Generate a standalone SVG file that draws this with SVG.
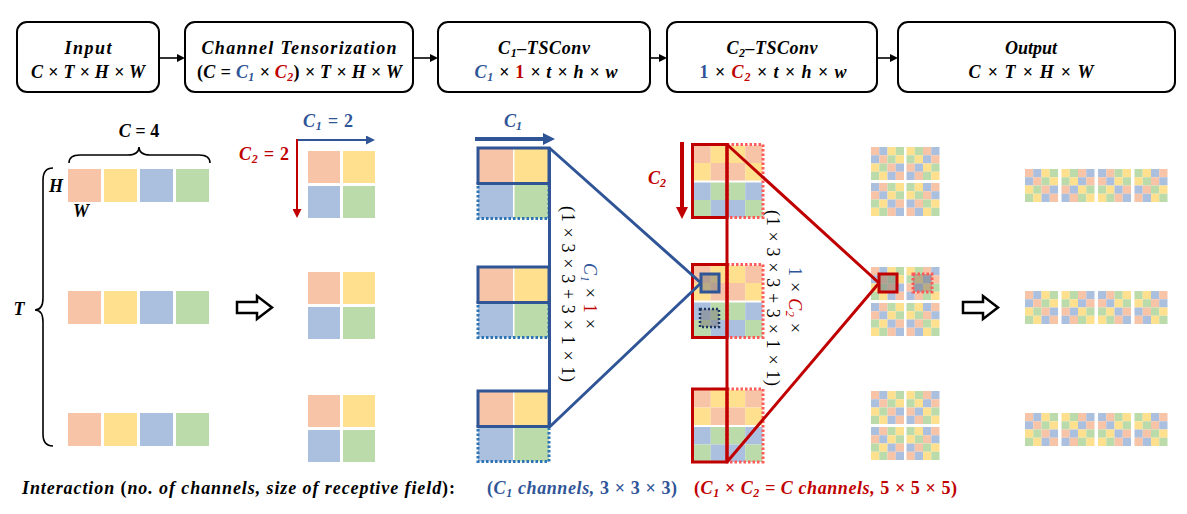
<svg xmlns="http://www.w3.org/2000/svg" xmlns:xlink="http://www.w3.org/1999/xlink" width="1187" height="514" viewBox="0 0 1187 514">
<style>
.o{fill:#F8C4A7}.y{fill:#FEE08F}.b{fill:#ABBFDE}.g{fill:#BCDBAA}
.box{fill:#fff;stroke:#000;stroke-width:2}
.t{font-family:"Liberation Serif",serif;font-weight:bold;font-style:italic;font-size:18px;text-anchor:middle;fill:#000}
.r{font-family:"Liberation Serif",serif;font-size:18px;text-anchor:middle;fill:#000}
.n{font-style:normal}
.sub{font-size:12px}
.bl{fill:#2F5597}.rd{fill:#C00000}
.sb{fill:none;stroke:#2F5597;stroke-width:3}
.db{fill:none;stroke:#2E75B6;stroke-width:3;stroke-dasharray:2.5 2}
.sr{fill:none;stroke:#C00000;stroke-width:3}
.dr{fill:none;stroke:#FF5B5B;stroke-width:3;stroke-dasharray:2.5 2}
.ln{fill:none;stroke:#000;stroke-width:1.6}
.hollow{fill:#fff;stroke:#000;stroke-width:2.5}
.gray{fill:#7F7F7F;fill-opacity:0.55}
</style>
<defs>
<marker id="ak" viewBox="0 0 10 10" refX="0" refY="5" markerWidth="8" markerHeight="8" markerUnits="userSpaceOnUse" orient="auto"><path d="M0,0L10,5L0,10z" fill="#000"/></marker>
<marker id="abs" viewBox="0 0 10 10" refX="0" refY="5" markerWidth="9" markerHeight="9" markerUnits="userSpaceOnUse" orient="auto"><path d="M0,0L10,5L0,10z" fill="#2F5597"/></marker>
<marker id="ars" viewBox="0 0 10 10" refX="0" refY="5" markerWidth="9" markerHeight="9" markerUnits="userSpaceOnUse" orient="auto"><path d="M0,0L10,5L0,10z" fill="#C00000"/></marker>
<marker id="abl" viewBox="0 0 10 10" refX="0" refY="5" markerWidth="12" markerHeight="12" markerUnits="userSpaceOnUse" orient="auto"><path d="M0,0L10,5L0,10z" fill="#2F5597"/></marker>
<marker id="arl" viewBox="0 0 10 10" refX="0" refY="5" markerWidth="12" markerHeight="12" markerUnits="userSpaceOnUse" orient="auto"><path d="M0,0L10,5L0,10z" fill="#C00000"/></marker>
<g id="row4"><rect class="o" x="0" y="0" width="33" height="33"/><rect class="y" x="36" y="0" width="33" height="33"/><rect class="b" x="72" y="0" width="33" height="33"/><rect class="g" x="108" y="0" width="33" height="33"/></g>
<g id="q2"><rect class="o" x="0" y="0" width="32" height="32"/><rect class="y" x="35" y="0" width="32" height="32"/><rect class="b" x="0" y="35" width="32" height="32"/><rect class="g" x="35" y="35" width="32" height="32"/></g>
<g id="g3"><rect class="o" x="0" y="0" width="35" height="35"/><rect class="y" x="36.5" y="0" width="34.5" height="35"/><rect class="b" x="0" y="36.5" width="35" height="34"/><rect class="g" x="36.5" y="36.5" width="34.5" height="34"/><rect class="db" x="0" y="35.5" width="71" height="35"/><rect class="sb" x="0" y="0" width="71" height="35.5"/></g>
<g id="g4">
<rect class="o" x="0" y="0" width="17.25" height="17.5"/><rect class="y" x="17.25" y="0" width="17.25" height="17.5"/><rect class="y" x="34.5" y="0" width="17.25" height="17.5"/><rect class="o" x="51.75" y="0" width="17.25" height="17.5"/>
<rect class="y" x="0" y="17.5" width="17.25" height="17.5"/><rect class="o" x="17.25" y="17.5" width="17.25" height="17.5"/><rect class="o" x="34.5" y="17.5" width="17.25" height="17.5"/><rect class="y" x="51.75" y="17.5" width="17.25" height="17.5"/>
<rect class="b" x="0" y="37" width="17.25" height="17.5"/><rect class="g" x="17.25" y="37" width="17.25" height="17.5"/><rect class="g" x="34.5" y="37" width="17.25" height="17.5"/><rect class="b" x="51.75" y="37" width="17.25" height="17.5"/>
<rect class="g" x="0" y="54.5" width="17.25" height="17.5"/><rect class="b" x="17.25" y="54.5" width="17.25" height="17.5"/><rect class="b" x="34.5" y="54.5" width="17.25" height="17.5"/><rect class="g" x="51.75" y="54.5" width="17.25" height="17.5"/>
</g>
<g id="P1">
<rect class="o" x="0" y="0" width="8.25" height="8.25"/><rect class="b" x="8.25" y="0" width="8.25" height="8.25"/><rect class="y" x="16.5" y="0" width="8.25" height="8.25"/><rect class="g" x="24.75" y="0" width="8.25" height="8.25"/>
<rect class="b" x="0" y="8.25" width="8.25" height="8.25"/><rect class="o" x="8.25" y="8.25" width="8.25" height="8.25"/><rect class="g" x="16.5" y="8.25" width="8.25" height="8.25"/><rect class="y" x="24.75" y="8.25" width="8.25" height="8.25"/>
<rect class="y" x="0" y="16.5" width="8.25" height="8.25"/><rect class="g" x="8.25" y="16.5" width="8.25" height="8.25"/><rect class="o" x="16.5" y="16.5" width="8.25" height="8.25"/><rect class="b" x="24.75" y="16.5" width="8.25" height="8.25"/>
<rect class="g" x="0" y="24.75" width="8.25" height="8.25"/><rect class="y" x="8.25" y="24.75" width="8.25" height="8.25"/><rect class="b" x="16.5" y="24.75" width="8.25" height="8.25"/><rect class="o" x="24.75" y="24.75" width="8.25" height="8.25"/>
</g>
<g id="P2">
<rect class="y" x="0" y="0" width="8.25" height="8.25"/><rect class="g" x="8.25" y="0" width="8.25" height="8.25"/><rect class="o" x="16.5" y="0" width="8.25" height="8.25"/><rect class="b" x="24.75" y="0" width="8.25" height="8.25"/>
<rect class="g" x="0" y="8.25" width="8.25" height="8.25"/><rect class="y" x="8.25" y="8.25" width="8.25" height="8.25"/><rect class="b" x="16.5" y="8.25" width="8.25" height="8.25"/><rect class="o" x="24.75" y="8.25" width="8.25" height="8.25"/>
<rect class="o" x="0" y="16.5" width="8.25" height="8.25"/><rect class="b" x="8.25" y="16.5" width="8.25" height="8.25"/><rect class="y" x="16.5" y="16.5" width="8.25" height="8.25"/><rect class="g" x="24.75" y="16.5" width="8.25" height="8.25"/>
<rect class="b" x="0" y="24.75" width="8.25" height="8.25"/><rect class="o" x="8.25" y="24.75" width="8.25" height="8.25"/><rect class="g" x="16.5" y="24.75" width="8.25" height="8.25"/><rect class="y" x="24.75" y="24.75" width="8.25" height="8.25"/>
</g>
<g id="P3">
<rect class="b" x="0" y="0" width="8.25" height="8.25"/><rect class="o" x="8.25" y="0" width="8.25" height="8.25"/><rect class="g" x="16.5" y="0" width="8.25" height="8.25"/><rect class="y" x="24.75" y="0" width="8.25" height="8.25"/>
<rect class="o" x="0" y="8.25" width="8.25" height="8.25"/><rect class="b" x="8.25" y="8.25" width="8.25" height="8.25"/><rect class="y" x="16.5" y="8.25" width="8.25" height="8.25"/><rect class="g" x="24.75" y="8.25" width="8.25" height="8.25"/>
<rect class="g" x="0" y="16.5" width="8.25" height="8.25"/><rect class="y" x="8.25" y="16.5" width="8.25" height="8.25"/><rect class="b" x="16.5" y="16.5" width="8.25" height="8.25"/><rect class="o" x="24.75" y="16.5" width="8.25" height="8.25"/>
<rect class="y" x="0" y="24.75" width="8.25" height="8.25"/><rect class="g" x="8.25" y="24.75" width="8.25" height="8.25"/><rect class="o" x="16.5" y="24.75" width="8.25" height="8.25"/><rect class="b" x="24.75" y="24.75" width="8.25" height="8.25"/>
</g>
<g id="P4">
<rect class="g" x="0" y="0" width="8.25" height="8.25"/><rect class="y" x="8.25" y="0" width="8.25" height="8.25"/><rect class="b" x="16.5" y="0" width="8.25" height="8.25"/><rect class="o" x="24.75" y="0" width="8.25" height="8.25"/>
<rect class="y" x="0" y="8.25" width="8.25" height="8.25"/><rect class="g" x="8.25" y="8.25" width="8.25" height="8.25"/><rect class="o" x="16.5" y="8.25" width="8.25" height="8.25"/><rect class="b" x="24.75" y="8.25" width="8.25" height="8.25"/>
<rect class="b" x="0" y="16.5" width="8.25" height="8.25"/><rect class="o" x="8.25" y="16.5" width="8.25" height="8.25"/><rect class="g" x="16.5" y="16.5" width="8.25" height="8.25"/><rect class="y" x="24.75" y="16.5" width="8.25" height="8.25"/>
<rect class="o" x="0" y="24.75" width="8.25" height="8.25"/><rect class="b" x="8.25" y="24.75" width="8.25" height="8.25"/><rect class="y" x="16.5" y="24.75" width="8.25" height="8.25"/><rect class="g" x="24.75" y="24.75" width="8.25" height="8.25"/>
</g>
<g id="g5"><use xlink:href="#P1"/><use xlink:href="#P2" x="35.5"/><use xlink:href="#P3" y="36"/><use xlink:href="#P4" x="35.5" y="36"/></g>
<g id="out"><use xlink:href="#P1"/><use xlink:href="#P2" x="36.5"/><use xlink:href="#P3" x="73"/><use xlink:href="#P4" x="109.5"/></g>
</defs>
<rect width="1187" height="514" fill="#fff"/>

<g id="node-input"><rect class="box" x="17" y="22" width="142" height="70" rx="10"/>
<text class="t" x="88" y="54" textLength="47">Input</text>
<text class="t" x="88" y="78" textLength="114">C × T × H × W</text></g>

<g id="node-tensorization"><rect class="box" x="185" y="22" width="228" height="70" rx="10"/>
<text class="t" x="299" y="54" textLength="195">Channel Tensorization</text>
<text class="t" x="299.5" y="78" textLength="205"><tspan class="n">(</tspan>C = <tspan class="bl">C<tspan class="sub" dy="3">1</tspan></tspan><tspan dy="-3"> × </tspan><tspan class="rd">C<tspan class="sub" dy="3">2</tspan></tspan><tspan dy="-3" class="n">)</tspan> × T × H × W</text></g>

<g id="node-c1tsconv"><rect class="box" x="438" y="22" width="212" height="70" rx="10"/>
<text class="t" x="544" y="54" textLength="92">C<tspan class="sub" dy="3">1</tspan><tspan dy="-3">–TSConv</tspan></text>
<text class="t" x="546" y="78" textLength="143"><tspan class="bl">C<tspan class="sub" dy="3">1</tspan></tspan><tspan dy="-3"> × </tspan><tspan class="rd n">1</tspan> × t × h × w</text></g>

<g id="node-c2tsconv"><rect class="box" x="667" y="22" width="210" height="70" rx="10"/>
<text class="t" x="772" y="54" textLength="91">C<tspan class="sub" dy="3">2</tspan><tspan dy="-3">–TSConv</tspan></text>
<text class="t" x="773" y="78" textLength="147"><tspan class="bl n">1</tspan> × <tspan class="rd">C<tspan class="sub" dy="3">2</tspan></tspan><tspan dy="-3"> ×  t × h × w</tspan></text></g>

<g id="node-output"><rect class="box" x="898" y="22" width="277" height="70" rx="10"/>
<text class="t" x="1031" y="54" font-size="19">Output</text>
<text class="t" x="1031" y="78" textLength="125">C × T × H × W</text></g>

<g id="flow-connectors">
<line class="ln" x1="159" y1="58" x2="177" y2="58" marker-end="url(#ak)"/>
<line class="ln" x1="413" y1="58" x2="430" y2="58" marker-end="url(#ak)"/>
<line class="ln" x1="650" y1="58" x2="659" y2="58" marker-end="url(#ak)"/>
<line class="ln" x1="877" y1="58" x2="890" y2="58" marker-end="url(#ak)"/>
</g>

<g id="input-tensor">
<path class="ln" d="M69,163 Q69,155 80,155 L128,155 Q139,155 139,147 Q139,155 150,155 L199,155 Q210,155 210,163" stroke-width="2"/>
<text class="t" x="139" y="137">C = <tspan class="n">4</tspan></text>
<path class="ln" d="M53,168 Q43,168 43,180 L43,298 Q43,310 35,310 Q43,310 43,322 L43,434 Q43,446 53,446" stroke-width="2"/>
<text class="t" x="19" y="315">T</text>
<text class="t" x="56" y="192" font-size="17">H</text>
<text class="t" x="81" y="217" font-size="17">W</text>
<use xlink:href="#row4" x="68" y="169"/>
<use xlink:href="#row4" x="68" y="291"/>
<use xlink:href="#row4" x="68" y="413"/>
</g>

<g id="hollow-arrow-1"><polygon class="hollow" points="237,302 257,302 257,296 272,307.5 257,319 257,313 237,313"/></g>

<g id="tensorized">
<line x1="297" y1="140" x2="366" y2="140" stroke="#2F5597" stroke-width="2" marker-end="url(#abs)"/>
<line x1="297" y1="139" x2="297" y2="209" stroke="#C00000" stroke-width="2" marker-end="url(#ars)"/>
<text class="t bl" x="328" y="127" textLength="50">C<tspan class="sub" dy="3">1</tspan><tspan dy="-3"> = </tspan><tspan class="n">2</tspan></text>
<text class="t rd" x="289" y="160" style="text-anchor:end" textLength="50">C<tspan class="sub" dy="3">2</tspan><tspan dy="-3"> = </tspan><tspan class="n">2</tspan></text>
<use xlink:href="#q2" x="308" y="151"/>
<use xlink:href="#q2" x="308" y="272"/>
<use xlink:href="#q2" x="308" y="395"/>
</g>

<g id="c1-stage">
<line x1="475" y1="139" x2="543" y2="139" stroke="#2F5597" stroke-width="4" marker-end="url(#abl)"/>
<text class="t bl" x="513" y="127">C<tspan class="sub" dy="3">1</tspan></text>
<use xlink:href="#g3" x="478" y="148"/>
<use xlink:href="#g3" x="478" y="267"/>
<use xlink:href="#g3" x="478" y="391"/>
</g>

<g id="c2-stage">
<line x1="682" y1="142" x2="682" y2="207" stroke="#C00000" stroke-width="4" marker-end="url(#arl)"/>
<text class="t rd" x="657" y="184">C<tspan class="sub" dy="3">2</tspan></text>
<use xlink:href="#g4" x="693.5" y="145.5"/>
<use xlink:href="#g4" x="693.5" y="265.5"/>
<use xlink:href="#g4" x="693.5" y="390"/>
<rect class="dr" x="727" y="144.5" width="36" height="73"/>
<rect class="dr" x="727" y="264.5" width="36" height="73"/>
<rect class="dr" x="727" y="389" width="36" height="73"/>
<rect class="sr" x="692.5" y="144.5" width="34.5" height="73"/>
<rect class="sr" x="692.5" y="264.5" width="34.5" height="73"/>
<rect class="sr" x="692.5" y="389" width="34.5" height="73"/>
</g>

<g id="c5-stage">
<use xlink:href="#g5" x="871" y="147"/>
<use xlink:href="#g5" x="871" y="267"/>
<use xlink:href="#g5" x="871" y="391"/>
</g>

<g id="hollow-arrow-2"><polygon class="hollow" points="963,302 983,302 983,296 998,307.5 983,319 983,313 963,313"/></g>

<g id="output-tensor">
<use xlink:href="#out" x="1025" y="169"/>
<use xlink:href="#out" x="1025" y="291"/>
<use xlink:href="#out" x="1025" y="413"/>
</g>

<g id="receptive-connectors">
<path d="M549.5,148 L549.5,427 M549.5,148 L701,283 M549.5,427 L701,283" fill="none" stroke="#2F5597" stroke-width="3" stroke-linejoin="round"/>
<path d="M727,144.5 L727,462 M727,144.5 L879,283 M727,462 L879,283" fill="none" stroke="#C00000" stroke-width="3" stroke-linejoin="round"/>
</g>

<g id="kernels">
<rect class="gray" x="701" y="274" width="18" height="18"/>
<rect class="sb" x="701" y="274" width="18" height="18"/>
<rect class="gray" x="700" y="309" width="19" height="18"/>
<rect x="700" y="309" width="19" height="18" fill="none" stroke="#1F3864" stroke-width="2.5" stroke-dasharray="2 2"/>
<rect class="gray" x="879" y="274" width="18" height="18"/>
<rect class="sr" x="879" y="274" width="18" height="18"/>
<rect class="gray" x="913" y="274" width="19" height="18"/>
<rect class="dr" x="913" y="274" width="19" height="18"/>
</g>

<g id="kernel-labels">
<text class="r" transform="translate(562,294) rotate(90)" textLength="176">(1 × 3 × 3 + 3 × 1 × 1)</text>
<text class="r" transform="translate(584,296) rotate(90)" textLength="66"><tspan class="bl" font-style="italic">C<tspan class="sub" dy="3">1</tspan></tspan><tspan dy="-3"> × </tspan><tspan class="rd">1</tspan> ×</text>
<text class="r" transform="translate(767,298) rotate(90)" textLength="176">(1 × 3 × 3 + 3 × 1 × 1)</text>
<text class="r" transform="translate(789,300) rotate(90)" textLength="66"><tspan class="bl">1</tspan> × <tspan class="rd" font-style="italic">C<tspan class="sub" dy="3">2</tspan></tspan><tspan dy="-3"> ×</tspan></text>
</g>

<g id="caption">
<text class="t" x="22" y="494" style="text-anchor:start" textLength="433">Interaction <tspan class="n">(</tspan>no. of channels, size of receptive field<tspan class="n">):</tspan></text>
<text class="t bl" x="487" y="494" style="text-anchor:start" textLength="190"><tspan class="n">(</tspan>C<tspan class="sub" dy="3">1</tspan><tspan dy="-3"> channels, </tspan><tspan class="n">3 × 3 × 3)</tspan></text>
<text class="t rd" x="694" y="494" style="text-anchor:start" textLength="263"><tspan class="n">(</tspan>C<tspan class="sub" dy="3">1</tspan><tspan dy="-3"> × C</tspan><tspan class="sub" dy="3">2</tspan><tspan dy="-3"> = C channels, </tspan><tspan class="n">5 × 5 × 5)</tspan></text>
</g>
</svg>
